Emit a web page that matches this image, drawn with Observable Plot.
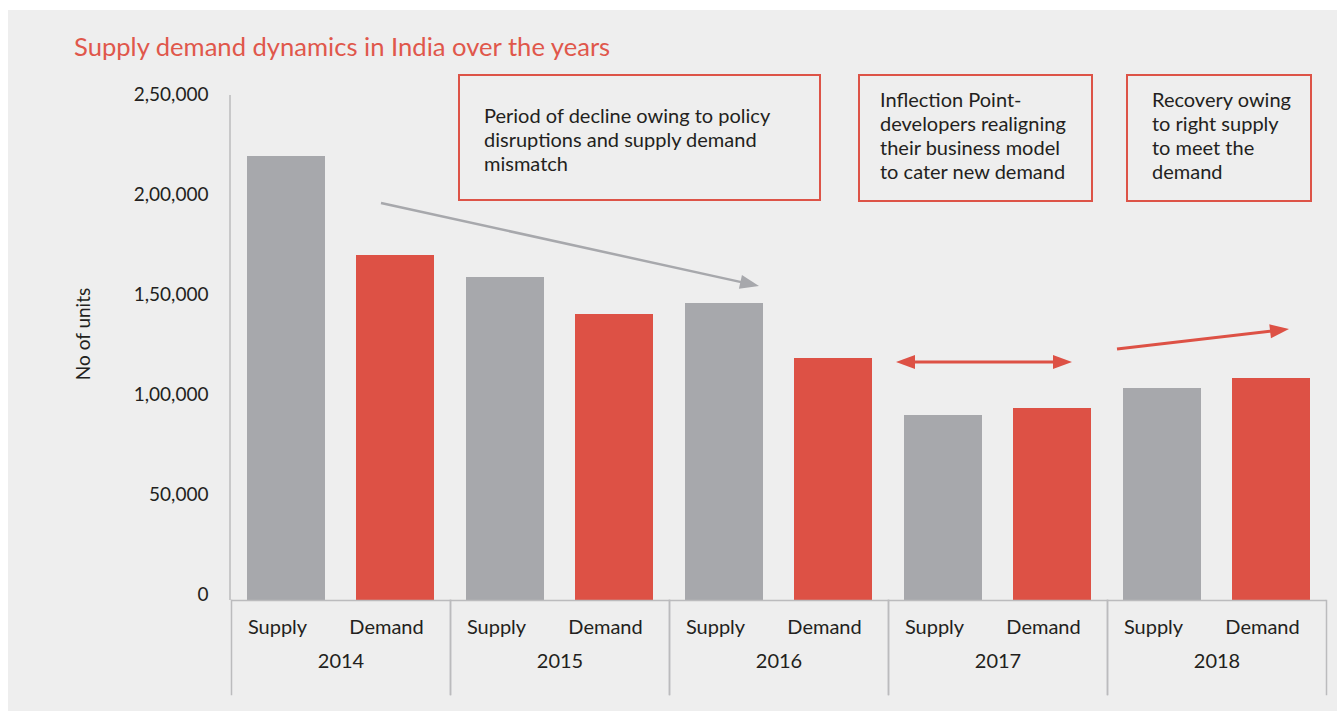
<!DOCTYPE html>
<html><head><meta charset="utf-8">
<script src="https://cdn.jsdelivr.net/npm/d3@7"></script>
<script src="https://cdn.jsdelivr.net/npm/@observablehq/plot@0.6"></script>
<style>
html,body{margin:0;padding:0;background:#fff;}
body{width:1337px;height:711px;position:relative;overflow:hidden;font-family:Lato,"Open Sans",sans-serif;color:#231f20;}
#bg{position:absolute;left:8px;top:10px;right:0;bottom:0;background:#eeeeee;}
#title{position:absolute;left:74px;top:31px;font-size:25.6px;line-height:30px;color:#e0574b;white-space:nowrap;}
#chart{position:absolute;left:0;top:70px;}
#ylabel{position:absolute;left:82px;top:334px;transform:translate(-50%,-50%) rotate(-90deg);font-size:19px;white-space:nowrap;}
.box{position:absolute;border:2.5px solid #dd5347;box-sizing:border-box;display:flex;align-items:center;font-size:20px;line-height:24px;color:#231f20;}
#overlay{position:absolute;left:0;top:0;pointer-events:none;}
</style></head>
<body>
<div id="bg"></div>
<div id="title">Supply demand dynamics in India over the years</div>
<div id="ylabel">No of units</div>
<div id="chart"></div>
<div class="box" style="left:458px;top:74px;width:363px;height:127px;padding-left:24px;padding-top:2px;">Period of decline owing to policy<br>disruptions and supply demand<br>mismatch</div>
<div class="box" style="left:858px;top:74px;width:235px;height:128px;padding-left:20px;padding-bottom:6px;">Inflection Point-<br>developers realigning<br>their business model<br>to cater new demand</div>
<div class="box" style="left:1126px;top:74px;width:186px;height:128px;padding-left:24px;padding-bottom:6px;">Recovery owing<br>to right supply<br>to meet the<br>demand</div>
<svg id="overlay" width="1337" height="711"></svg>
<script>
const years = ["2014", "2015", "2016", "2017", "2018"];
const seriesNames = ["Supply", "Demand"];
const supply = [222000, 161500, 148500, 92500, 106000];
const demand = [172500, 143000, 121000, 96000, 111000];
const yTicks = [0, 50000, 100000, 150000, 200000, 250000];
const yTickLabels = ["0", "50,000", "1,00,000", "1,50,000", "2,00,000", "2,50,000"];

const data = years.flatMap((y, i) => [
  {year: y, type: seriesNames[0], value: supply[i]},
  {year: y, type: seriesNames[1], value: demand[i]}
]);

const gridColor = "#bbbbbd";
const W = 1337, H = 641, mL = 230, mR = 10, mT = 30, mB = 111;

const plot = Plot.plot({
  width: W, height: H,
  marginLeft: mL, marginRight: mR, marginTop: mT, marginBottom: mB,
  style: {background: "transparent", fontFamily: "Lato, 'Open Sans', sans-serif", color: "#231f20", overflow: "visible"},
  fx: {domain: years, padding: 0},
  x: {domain: seriesNames, paddingInner: 0.28, paddingOuter: 0.14},
  y: {domain: [0, 250000]},
  color: {domain: seriesNames, range: ["#a7a8ac", "#dd5145"]},
  marks: [
    Plot.barY(data, {fx: "year", x: "type", y: "value", fill: "type"}),
    Plot.ruleY([0], {stroke: gridColor, strokeWidth: 1.5}),
    Plot.frame({anchor: "left", stroke: gridColor, strokeWidth: 1.5, insetTop: H - mT - mB, insetBottom: -94}),
    Plot.frame({anchor: "right", stroke: gridColor, strokeWidth: 1.5, insetTop: H - mT - mB, insetBottom: -94}),
    Plot.axisY({ticks: yTicks, tickFormat: d => yTickLabels[yTicks.indexOf(d)], tickSize: 0, tickPadding: 23, fontSize: 19, label: null, dy: -6}),
    Plot.axisX({tickSize: 0, tickPadding: 19, fontSize: 20, label: null, dx: -9}),
    Plot.axisFx({anchor: "bottom", tickSize: 0, tickPadding: 53, fontSize: 20, label: null})
  ]
});
document.getElementById("chart").appendChild(plot);

// y-axis line
const ys = plot.scale("y");
d3.select(plot).append("line")
  .attr("x1", mL).attr("x2", mL)
  .attr("y1", ys.apply(250000) - 5).attr("y2", ys.apply(0))
  .attr("stroke", gridColor).attr("stroke-width", 1.5);

// annotation arrows (overlay, page pixels)
const ov = d3.select("#overlay");
function head(x1, y1, x2, y2, len, half, color) {
  const a = Math.atan2(y2 - y1, x2 - x1);
  const bx = x2 - len * Math.cos(a), by = y2 - len * Math.sin(a);
  const px = -Math.sin(a) * half, py = Math.cos(a) * half;
  ov.append("polygon")
    .attr("points", `${x2},${y2} ${bx + px},${by + py} ${bx - px},${by - py}`)
    .attr("fill", color);
  return [bx, by];
}
function arrow(x1, y1, x2, y2, color, sw, both) {
  const a = Math.atan2(y2 - y1, x2 - x1);
  const e = head(x1, y1, x2, y2, 19, 7, color);
  let s = [x1, y1];
  if (both) s = head(x2, y2, x1, y1, 19, 7, color);
  ov.append("line")
    .attr("x1", s[0] - (both ? 2 * Math.cos(a) : 0)).attr("y1", s[1])
    .attr("x2", e[0] + 2 * Math.cos(a)).attr("y2", e[1] + 2 * Math.sin(a))
    .attr("stroke", color).attr("stroke-width", sw);
}
arrow(381, 203, 759, 286, "#a7a8ac", 2.5, false);
arrow(896, 362, 1072, 362, "#dd5145", 3, true);
arrow(1117, 349, 1289, 329, "#dd5145", 3, false);
</script>
</body></html>
